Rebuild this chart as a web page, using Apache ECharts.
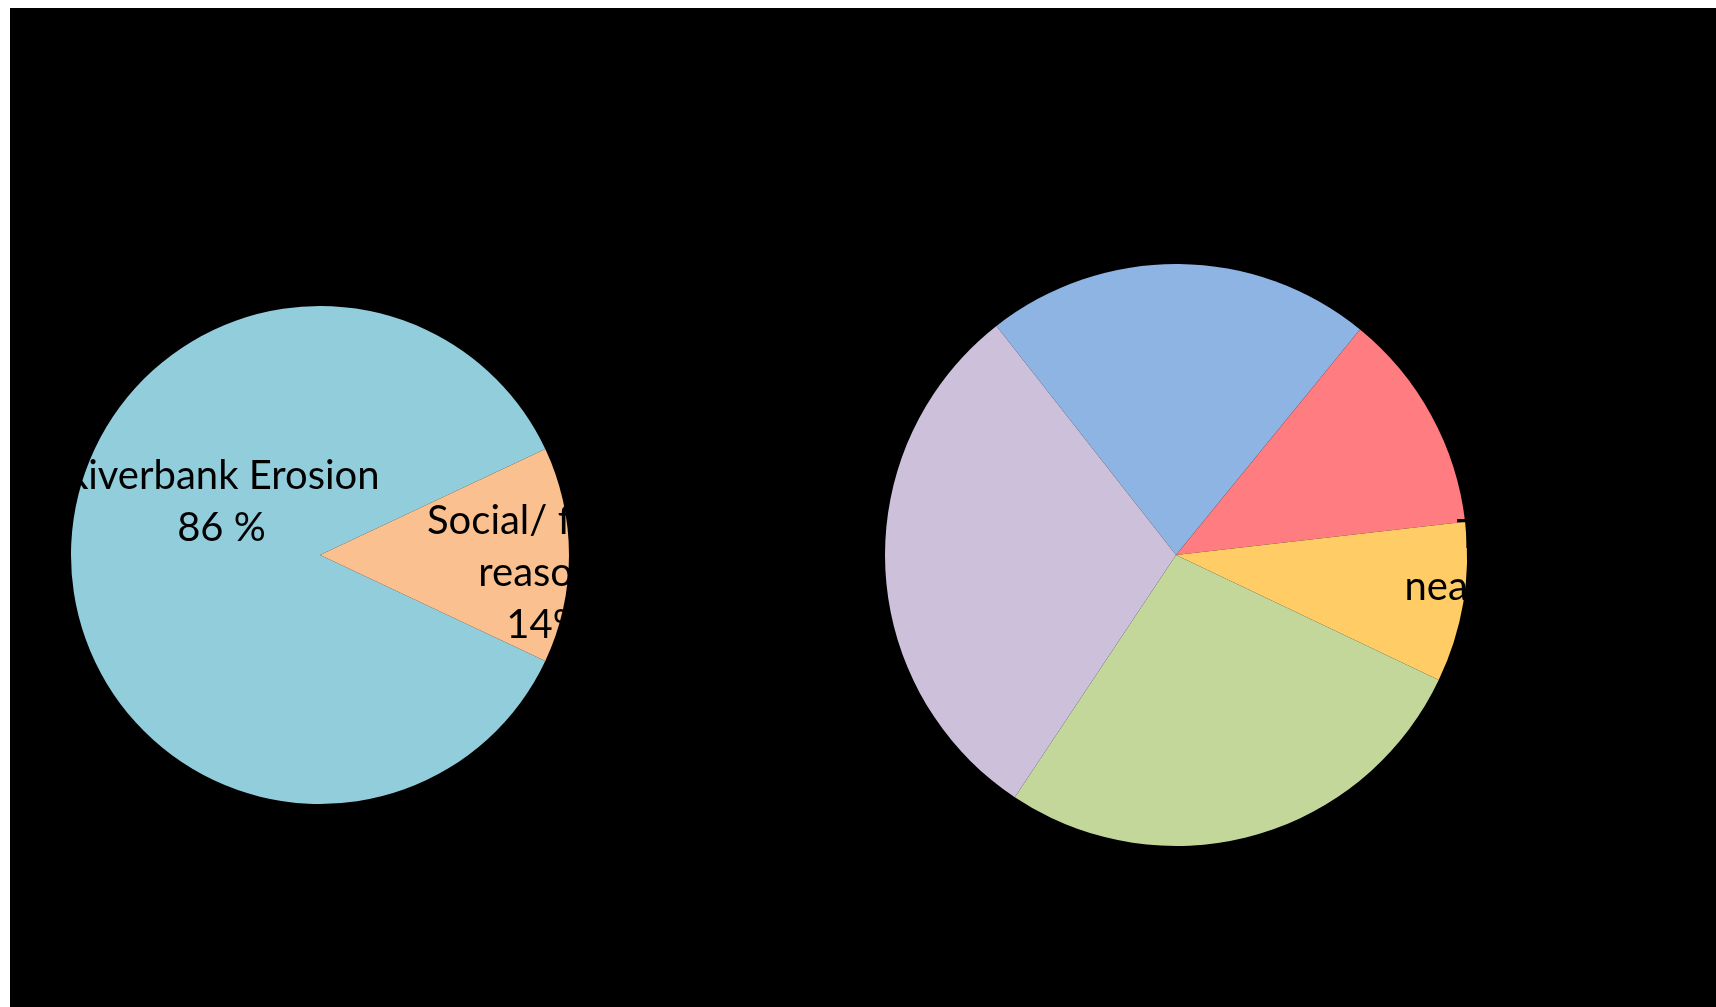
<!DOCTYPE html>
<html>
<head>
<meta charset="utf-8">
<script src="https://cdn.jsdelivr.net/npm/echarts@6/dist/echarts.min.js"></script>
<style>
html,body{margin:0;padding:0;background:#fff;}
#chart{width:1716px;height:1007px;}
</style>
</head>
<body>
<div id="chart"></div>
<script>
// Left pie: reasons
const leftCategories = ['Riverbank Erosion', 'Social/ family reasons'];
const leftValues = [86, 14];
const leftLabels = ['Riverbank Erosion\n86 %', 'Social/ family\nreasons\n14%'];
const leftColors = ['#92CDDC', '#FAC090'];

const rightCategories = ['A', 'B', 'Too near river', 'D', 'E'];
const rightValues = [21.5, 12.3, 8.9, 27.3, 30.1];
const rightLabels = ['', '', 'Too\nnear river', '', ''];
const rightColors = ['#8EB4E3', '#FF7C80', '#FFCC66', '#C4D79B', '#CCC0DA'];

const labelBase = {
  position: 'inside',
  fontFamily: 'Lato',
  fontSize: 40,
  lineHeight: 52,
  color: '#000000',
  textBorderWidth: 0,
  textBorderColor: '#000000',
  textShadowBlur: 0
};

const leftOffsets = [[29, -53], [98, 18]];
const rightOffsets = [null, null, [166, -18], null, null];

const chart = echarts.init(document.getElementById('chart'), null, {renderer: 'canvas'});
chart.setOption({
  backgroundColor: '#ffffff',
  animation: false,
  graphic: [{
    type: 'rect', z: -10,
    shape: {x: 10, y: 8, width: 1706, height: 999},
    style: {fill: '#000000'}
  }],
  series: [
    {
      type: 'pie',
      center: [320, 555],
      radius: 249,
      startAngle: -25.2,
      clockwise: true,
      labelLine: {show: false},
      itemStyle: {borderWidth: 0},
      emphasis: {disabled: true},
      data: leftCategories.map((n, i) => ({
        name: n, value: leftValues[i],
        itemStyle: {color: leftColors[i]},
        label: Object.assign({}, labelBase, {formatter: leftLabels[i], offset: leftOffsets[i]})
      }))
    },
    {
      type: 'pie',
      center: [1176, 555],
      radius: 291,
      startAngle: 128.1,
      clockwise: true,
      labelLine: {show: false},
      itemStyle: {borderWidth: 0},
      emphasis: {disabled: true},
      data: rightCategories.map((n, i) => ({
        name: n, value: rightValues[i],
        itemStyle: {color: rightColors[i]},
        label: rightLabels[i]
          ? Object.assign({}, labelBase, {formatter: rightLabels[i], offset: rightOffsets[i]})
          : {show: false}
      }))
    }
  ]
});
</script>
</body>
</html>
